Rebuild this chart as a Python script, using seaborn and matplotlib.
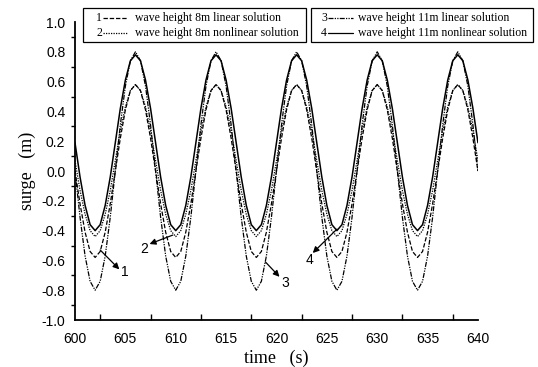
import numpy as np
import pandas as pd
import matplotlib
matplotlib.use("Agg")
import matplotlib.pyplot as plt
from matplotlib.lines import Line2D
from matplotlib.patches import Rectangle
from matplotlib.ticker import MultipleLocator
import seaborn as sns

# sampling grid (s)
time = np.arange(600.0, 640.01, 0.5)

# 1: wave height 8m linear solution
h8_linear = [
    0.00, -0.22, -0.41, -0.54, -0.58, -0.54, -0.41, -0.22, 0.00, 0.22, 0.41, 0.54, 0.58, 0.54, 0.41, 0.22,
    0.00, -0.22, -0.41, -0.54, -0.58, -0.54, -0.41, -0.22, 0.00, 0.22, 0.41, 0.54, 0.58, 0.54, 0.41, 0.22,
    0.00, -0.22, -0.41, -0.54, -0.58, -0.54, -0.41, -0.22, 0.00, 0.22, 0.41, 0.54, 0.58, 0.54, 0.41, 0.22,
    0.00, -0.22, -0.41, -0.54, -0.58, -0.54, -0.41, -0.22, 0.00, 0.22, 0.41, 0.54, 0.58, 0.54, 0.41, 0.22,
    0.00, -0.22, -0.41, -0.54, -0.58, -0.54, -0.41, -0.22, 0.00, 0.22, 0.41, 0.54, 0.58, 0.54, 0.41, 0.22,
    0.00]
# 2: wave height 8m nonlinear solution
h8_nonlinear = [
    0.07, -0.13, -0.29, -0.40, -0.44, -0.40, -0.29, -0.13, 0.07, 0.27, 0.43, 0.54, 0.58, 0.54, 0.43, 0.27,
    0.07, -0.13, -0.29, -0.40, -0.44, -0.40, -0.29, -0.13, 0.07, 0.27, 0.43, 0.54, 0.58, 0.54, 0.43, 0.27,
    0.07, -0.13, -0.29, -0.40, -0.44, -0.40, -0.29, -0.13, 0.07, 0.27, 0.43, 0.54, 0.58, 0.54, 0.43, 0.27,
    0.07, -0.13, -0.29, -0.40, -0.44, -0.40, -0.29, -0.13, 0.07, 0.27, 0.43, 0.54, 0.58, 0.54, 0.43, 0.27,
    0.07, -0.13, -0.29, -0.40, -0.44, -0.40, -0.29, -0.13, 0.07, 0.27, 0.43, 0.54, 0.58, 0.54, 0.43, 0.27,
    0.07]
# 3: wave height 11m linear solution
h11_linear = [
    0.00, -0.31, -0.57, -0.74, -0.80, -0.74, -0.57, -0.31, 0.00, 0.31, 0.57, 0.74, 0.80, 0.74, 0.57, 0.31,
    0.00, -0.31, -0.57, -0.74, -0.80, -0.74, -0.57, -0.31, 0.00, 0.31, 0.57, 0.74, 0.80, 0.74, 0.57, 0.31,
    0.00, -0.31, -0.57, -0.74, -0.80, -0.74, -0.57, -0.31, 0.00, 0.31, 0.57, 0.74, 0.80, 0.74, 0.57, 0.31,
    0.00, -0.31, -0.57, -0.74, -0.80, -0.74, -0.57, -0.31, 0.00, 0.31, 0.57, 0.74, 0.80, 0.74, 0.57, 0.31,
    0.00, -0.31, -0.57, -0.74, -0.80, -0.74, -0.57, -0.31, 0.00, 0.31, 0.57, 0.74, 0.80, 0.74, 0.57, 0.31,
    0.00]
# 4: wave height 11m nonlinear solution
h11_nonlinear = [
    0.19, -0.04, -0.23, -0.36, -0.40, -0.36, -0.23, -0.04, 0.19, 0.42, 0.61, 0.74, 0.78, 0.74, 0.61, 0.42,
    0.19, -0.04, -0.23, -0.36, -0.40, -0.36, -0.23, -0.04, 0.19, 0.42, 0.61, 0.74, 0.78, 0.74, 0.61, 0.42,
    0.19, -0.04, -0.23, -0.36, -0.40, -0.36, -0.23, -0.04, 0.19, 0.42, 0.61, 0.74, 0.78, 0.74, 0.61, 0.42,
    0.19, -0.04, -0.23, -0.36, -0.40, -0.36, -0.23, -0.04, 0.19, 0.42, 0.61, 0.74, 0.78, 0.74, 0.61, 0.42,
    0.19, -0.04, -0.23, -0.36, -0.40, -0.36, -0.23, -0.04, 0.19, 0.42, 0.61, 0.74, 0.78, 0.74, 0.61, 0.42,
    0.19]

labels = ["wave height 8m linear solution", "wave height 8m nonlinear solution",
          "wave height 11m linear solution", "wave height 11m nonlinear solution"]
numbers = ["1", "2", "3", "4"]
x_ticks = [600, 605, 610, 615, 620, 625, 630, 635, 640]
y_ticks = [-1.0, -0.8, -0.6, -0.4, -0.2, 0.0, 0.2, 0.4, 0.6, 0.8, 1.0]

sns.set_theme(style="white")
plt.rcParams['font.family'] = ['Liberation Sans', 'DejaVu Sans']

fig = plt.figure(figsize=(5.38, 3.67), dpi=100)
ax = fig.add_axes([0.1394, 0.128, 0.749, 0.812])

series = [h8_linear, h8_nonlinear, h11_linear, h11_nonlinear]
styles = [(0, (3.5, 1.5)), (0, (1, 1)), (0, (4, 1, 1, 1, 1, 1)), '-']
widths = [0.9, 0.9, 0.9, 1.1]
for vals, ls, w in zip(series, styles, widths):
    sns.lineplot(x=time, y=vals, ax=ax, color='black', lw=w, linestyle=ls)

ax.set_xlim(600, 640)
ax.set_ylim(-1.0, 1.0)
ax.set_xticks(x_ticks)
ax.set_yticks(y_ticks)
ax.set_yticklabels([f"{v:.1f}" for v in y_ticks])
ax.xaxis.set_minor_locator(MultipleLocator(2.5))
ax.yaxis.set_minor_locator(MultipleLocator(0.1))
ax.tick_params(axis='x', which='major', direction='inout', length=7, width=1.2, labelsize=10, pad=5, color='black', labelcolor='black')
ax.tick_params(axis='x', which='minor', direction='in', length=4, width=1.0, color='black', bottom=True)
ax.tick_params(axis='y', which='major', direction='out', length=5, width=1.2, labelsize=10, pad=2, color='black', labelcolor='black')
ax.tick_params(axis='y', which='minor', direction='out', length=3, width=1.0, color='black', left=True)
for s in ['top', 'right']:
    ax.spines[s].set_visible(False)
for s in ['left', 'bottom']:
    ax.spines[s].set_color('black')
    ax.spines[s].set_linewidth(1.3)

ax.set_xlabel("time   (s)", family=['Liberation Serif'], fontsize=13, labelpad=3, color='black')
ax.set_ylabel("surge   (m)", family=['Liberation Serif'], fontsize=13, labelpad=4, color='black')

# annotations (numbers with arrows)
ann = [("1", (602.5, -0.53), (604.4, -0.66)),
       ("2", (609.7, -0.43), (607.4, -0.49)),
       ("3", (618.9, -0.61), (620.3, -0.71)),
       ("4", (626.0, -0.39), (623.6, -0.55))]
text_pos = [(604.9, -0.68), (606.9, -0.52), (620.9, -0.75), (623.3, -0.60)]
for (num, start, end), tp in zip(ann, text_pos):
    ax.annotate("", xy=end, xytext=start,
                arrowprops=dict(arrowstyle='-|>', color='black', lw=0.9, mutation_scale=9,
                                shrinkA=0, shrinkB=0))
    ax.text(tp[0], tp[1], num, fontsize=10, ha='center', va='center', color='black')

# legend boxes (figure coordinates in pixels)
W, H = 538.0, 367.0
def fx(px):
    return px / W
def fy(py):
    return 1 - py / H

boxes = [(83, 8, 223, 34), (311, 8, 222, 34)]
for (bx, by, bw, bh) in boxes:
    fig.patches.append(Rectangle((fx(bx), fy(by + bh)), bw / W, bh / H, transform=fig.transFigure,
                                 fill=False, edgecolor='black', lw=0.9))

entries = [(99, 18, 103, 127, 135), (99, 33, 103, 127, 135),
           (324, 18, 328, 353, 358), (324, 33, 328, 353, 358)]
for i, (nx, ny, lx0, lx1, tx) in enumerate(entries):
    fig.text(fx(nx), fy(ny), numbers[i], family=['Liberation Serif'], fontsize=8.5,
             ha='center', va='center', color='black')
    fig.lines.append(Line2D([fx(lx0), fx(lx1)], [fy(ny), fy(ny)], transform=fig.transFigure,
                            color='black', lw=0.9, linestyle=styles[i]))
    fig.text(fx(tx), fy(ny), labels[i], family=['Liberation Serif'], fontsize=8.5,
             ha='left', va='center', color='black')

fig.savefig("out.png", dpi=100, facecolor='white')
